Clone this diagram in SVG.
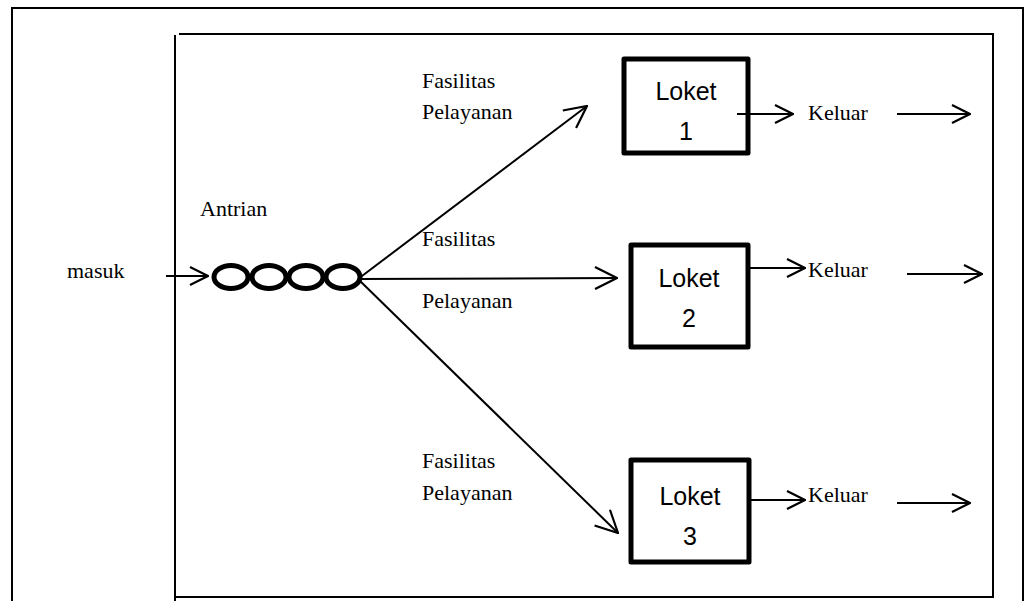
<svg xmlns="http://www.w3.org/2000/svg" width="1028" height="601" viewBox="0 0 1028 601">
<defs>
<style>
.serif{font-family:"Liberation Serif","Times New Roman",serif;font-size:22px;fill:#000}
.sans{font-family:"Liberation Sans",Arial,sans-serif;font-size:25px;fill:#000}
.frame{fill:none;stroke:#000;stroke-width:2}
.box{fill:#fff;stroke:#000;stroke-width:5;stroke-linejoin:round}
.ln{fill:none;stroke:#000;stroke-width:2}
.q{fill:none;stroke:#000;stroke-width:5}
</style>
<marker id="ah" viewBox="0 0 20 22" refX="19" refY="11" markerWidth="20" markerHeight="22" markerUnits="userSpaceOnUse" orient="auto">
<path d="M1,2 L19,11 L1,20" fill="none" stroke="#000" stroke-width="2.2"/>
</marker>
<marker id="ahL" viewBox="0 0 24 24" refX="23" refY="12" markerWidth="24" markerHeight="24" markerUnits="userSpaceOnUse" orient="auto">
<path d="M1,1 L23,12 L1,23" fill="none" stroke="#000" stroke-width="2.2"/>
</marker>
</defs>
<rect width="1028" height="601" fill="#fff"/>
<g id="outer-frame">
<path class="frame" d="M12,601 V8 H1023 V601"/>
</g>
<g id="system-frame">
<path class="frame" d="M175,601 V35"/>
<path class="frame" d="M179,34 H994"/>
<path class="frame" d="M993,35 V597 H175"/>
</g>
<g id="labels">
<text class="serif" x="67" y="278">masuk</text>
<text class="serif" x="200" y="216">Antrian</text>
<text class="serif" x="422" y="88">Fasilitas</text>
<text class="serif" x="422" y="119">Pelayanan</text>
<text class="serif" x="422" y="246">Fasilitas</text>
<text class="serif" x="422" y="308">Pelayanan</text>
<text class="serif" x="422" y="468">Fasilitas</text>
<text class="serif" x="422" y="500">Pelayanan</text>
</g>
<g id="antrian">
<ellipse class="q" cx="231" cy="277" rx="17" ry="11.5"/>
<ellipse class="q" cx="269" cy="277" rx="17" ry="11.5"/>
<ellipse class="q" cx="306" cy="277" rx="17" ry="11.5"/>
<ellipse class="q" cx="343" cy="277" rx="17" ry="11.5"/>
</g>
<g id="loket1">
<rect class="box" x="624" y="59" width="124" height="94"/>
<text class="sans" x="686" y="100" text-anchor="middle">Loket</text>
<text class="sans" x="686" y="140" text-anchor="middle">1</text>
</g>
<g id="loket2">
<rect class="box" x="631" y="245" width="117" height="102"/>
<text class="sans" x="689" y="287" text-anchor="middle">Loket</text>
<text class="sans" x="689" y="327" text-anchor="middle">2</text>
</g>
<g id="loket3">
<rect class="box" x="631" y="460" width="118" height="102"/>
<text class="sans" x="690" y="505" text-anchor="middle">Loket</text>
<text class="sans" x="690" y="545" text-anchor="middle">3</text>
</g>
<g id="keluar-labels">
<text class="serif" x="808" y="120">Keluar</text>
<text class="serif" x="808" y="277">Keluar</text>
<text class="serif" x="808" y="502">Keluar</text>
</g>
<g id="connectors">
<line class="ln" x1="166" y1="276" x2="208" y2="276" marker-end="url(#ah)"/>
<line class="ln" x1="358" y1="279" x2="587" y2="106" marker-end="url(#ahL)"/>
<line class="ln" x1="358" y1="279" x2="617" y2="278" marker-end="url(#ahL)"/>
<line class="ln" x1="358" y1="279" x2="618" y2="533" marker-end="url(#ahL)"/>
<line class="ln" x1="737" y1="114" x2="793" y2="114" marker-end="url(#ah)"/>
<line class="ln" x1="897" y1="114" x2="970" y2="114" marker-end="url(#ah)"/>
<line class="ln" x1="750" y1="268" x2="805" y2="268" marker-end="url(#ah)"/>
<line class="ln" x1="907" y1="274" x2="982" y2="274" marker-end="url(#ah)"/>
<line class="ln" x1="750" y1="500" x2="805" y2="500" marker-end="url(#ah)"/>
<line class="ln" x1="897" y1="503" x2="970" y2="503" marker-end="url(#ah)"/>
</g>
</svg>
